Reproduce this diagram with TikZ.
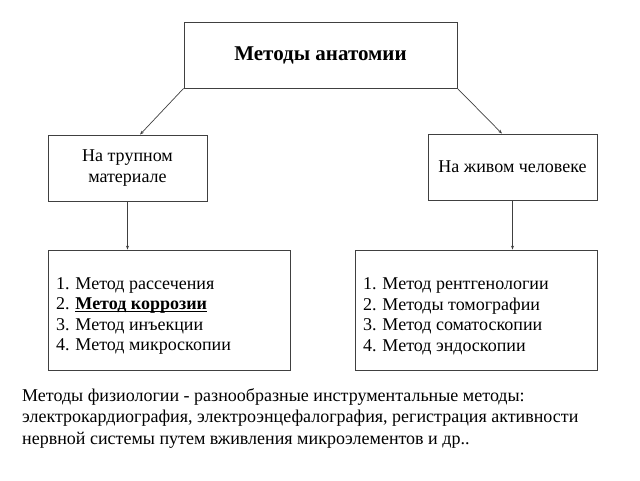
\documentclass[tikz,border=0pt]{standalone}
\usepackage{fontspec}
\setmainfont{Liberation Serif}
\usetikzlibrary{arrows.meta}
\newcommand\ulined[1]{\setbox0\hbox{#1}\rlap{\smash{\rule[-2pt]{\wd0}{0.8pt}}}\box0}
\newcommand\listfont{\fontsize{18}{20.5}\selectfont\lineskiplimit=-20pt\relax\lineskip=0pt\relax}
\begin{document}
\begin{tikzpicture}[
    x=1pt, y=1pt,
    every node/.style={font=\fontsize{18}{21}\selectfont},
    box/.style={draw=black!75, line width=0.8pt, inner sep=0pt},
    list/.style={box, minimum width=242, minimum height=120, text width=226,
      text height=24, align=flush left, font=\listfont},
    link/.style={draw=black!75, line width=0.7pt},
    arr/.style={link, -{Stealth[length=4pt,width=3pt]}}]
    \useasboundingbox (0,0) rectangle (640,480);
    \node [box, minimum width=273, minimum height=66] (top) at (320.5,425)
      {\fontsize{21}{24}\selectfont\bfseries Методы анатомии};
    \node [box, minimum width=159, minimum height=66, align=center] (lm) at (127.5,312)
      {На трупном\\материале};
    \node [box, minimum width=169, minimum height=66] (rm) at (512.5,313)
      {На живом человеке};
    \node [list] (lb) at (169,170)
      {1. Метод рассечения\\2. \ulined{\textbf{Метод коррозии}}\\3. Метод инъекции\\4. Метод микроскопии};
    \node [list] (rb) at (476,170)
      {1. Метод рентгенологии\\2. Методы томографии\\3. Метод соматоскопии\\4. Метод эндоскопии};
    \draw [arr] (top.south west) -- ([xshift=12.5]lm.north);
    \draw [arr] (top.south east) -- ([xshift=-10.5]rm.north);
    \draw [arr] (lm.south) -- (lm.south |- lb.north);
    \draw [arr] (rm.south) -- (rm.south |- rb.north);
    % physiology note
    \node [anchor=north west, inner sep=0pt, align=flush left,
      font=\fontsize{18}{21.5}\selectfont] (note) at (22,92)
      {Методы физиологии - разнообразные инструментальные методы:\\
       электрокардиография, электроэнцефалография, регистрация активности\\
       нервной системы путем вживления микроэлементов и др..};
\end{tikzpicture}
\end{document}
